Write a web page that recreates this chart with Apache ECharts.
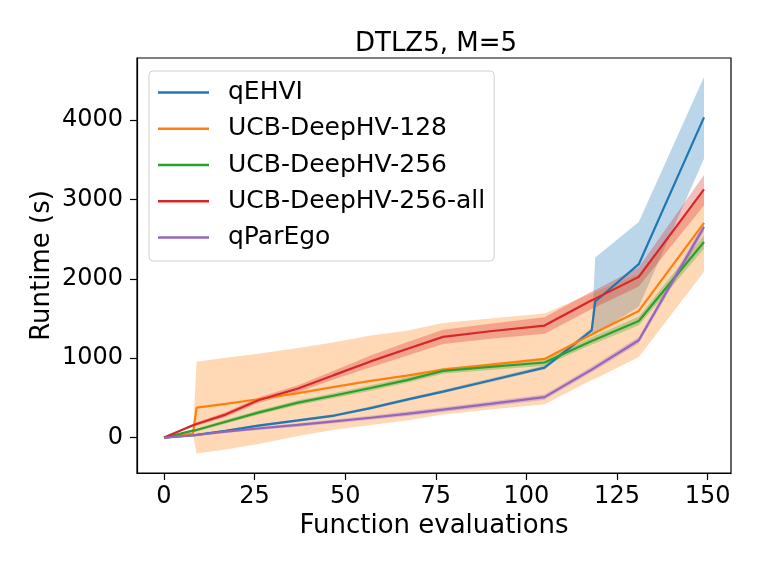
<!DOCTYPE html>
<html><head><meta charset="utf-8">
<script src="https://cdn.jsdelivr.net/npm/echarts@6/dist/echarts.min.js"></script>
<style>html,body{margin:0;padding:0;background:#fff}#c{width:761px;height:571px}</style>
</head><body><div id="c"></div>
<script>
// ---- data ----
const xs = [0, 8, 9, 17, 26, 37, 47, 57, 67, 77, 90, 105, 118, 119, 131, 149];

const qehvi      = [0, 30, 34, 85, 150, 216, 278, 372, 478, 580, 720, 882, 1350, 1715, 2185, 4035];
const qehviLo    = [0, 20, 24, 72, 135, 200, 260, 353, 458, 558, 696, 857, 1320, 1310, 1650, 3515];
const qehviHi    = [0, 40, 44, 98, 165, 232, 296, 391, 498, 602, 744, 907, 1380, 2270, 2717, 4545];

const ucb128     = [0, 50, 378, 425, 483, 560, 640, 715, 780, 857, 920, 991, 1300, 1325, 1596, 2705];
const ucb128Lo   = [0, 35, -200, -150, -80, 20, 100, 160, 215, 290, 355, 420, 725, 743, 1016, 2090];
const ucb128Hi   = [0, 65, 955, 1005, 1057, 1130, 1200, 1285, 1345, 1445, 1500, 1563, 1818, 1835, 2066, 3100];

const ucb256     = [0, 88, 95, 200, 315, 440, 530, 625, 725, 840, 890, 946, 1218, 1235, 1470, 2465];
const ucb256Lo   = [0, 70, 76, 175, 288, 410, 498, 591, 690, 804, 852, 906, 1172, 1188, 1415, 2380];
const ucb256Hi   = [0, 106, 114, 225, 342, 470, 562, 659, 760, 876, 928, 986, 1264, 1282, 1525, 2550];

const ucb256all   = [0, 155, 172, 290, 470, 618, 790, 960, 1117, 1269, 1340, 1412, 1730, 1751, 2025, 3127];
const ucb256allLo = [0, 135, 150, 260, 435, 576, 735, 885, 1032, 1179, 1245, 1307, 1620, 1641, 1905, 2925];
const ucb256allHi = [0, 175, 194, 320, 505, 660, 845, 1035, 1202, 1359, 1435, 1517, 1840, 1861, 2145, 3310];

const qparego    = [0, 29, 33, 75, 115, 160, 205, 250, 300, 353, 424, 510, 857, 885, 1227, 2655];
const qparegoLo  = [0, 15, 18, 57, 95, 138, 181, 224, 272, 323, 392, 478, 822, 850, 1187, 2595];
const qparegoHi  = [0, 43, 48, 93, 135, 182, 229, 276, 328, 383, 456, 542, 892, 920, 1267, 2715];

const xTicks = [0, 25, 50, 75, 100, 125, 150];
const yTicks = [0, 1000, 2000, 3000, 4000];

const names  = ['qEHVI', 'UCB-DeepHV-128', 'UCB-DeepHV-256', 'UCB-DeepHV-256-all', 'qParEgo'];
const colors = ['#1f77b4', '#ff7f0e', '#2ca02c', '#d62728', '#9467bd'];
const bandFill = ['rgba(31,119,180,0.3)', 'rgba(255,127,14,0.3)', 'rgba(44,160,44,0.3)', 'rgba(214,39,40,0.3)', 'rgba(148,103,189,0.3)'];
const means = [qehvi, ucb128, ucb256, ucb256all, qparego];
const lows  = [qehviLo, ucb128Lo, ucb256Lo, ucb256allLo, qparegoLo];
const highs = [qehviHi, ucb128Hi, ucb256Hi, ucb256allHi, qparegoHi];

// ---- chart ----
const chart = echarts.init(document.getElementById('c'), null, {renderer: 'canvas'});
const FONT = 'DejaVu Sans';

function bandSeries(k) {
  const data = xs.map((x, i) => [x, lows[k][i], highs[k][i]]);
  return {
    type: 'custom', name: names[k] + ' band', silent: true, z: 1,
    data: data, encode: {x: 0, y: [1, 2]},
    renderItem: function (params, api) {
      if (params.dataIndex !== 0) return null;
      const top = data.map(d => api.coord([d[0], d[2]]));
      const bot = data.map(d => api.coord([d[0], d[1]])).reverse();
      return {type: 'polygon', shape: {points: top.concat(bot)}, style: {fill: bandFill[k], stroke: null}};
    }
  };
}
function lineSeries(k) {
  return {
    type: 'line', name: names[k], z: 3, showSymbol: false, symbol: 'none',
    data: xs.map((x, i) => [x, means[k][i]]),
    lineStyle: {color: colors[k], width: 2.2}, itemStyle: {color: colors[k]}
  };
}

const series = [];
for (let k = 0; k < 5; k++) series.push(bandSeries(k));
for (let k = 0; k < 5; k++) series.push(lineSeries(k));

chart.setOption({
  animation: false,
  backgroundColor: '#fff',
  title: {
    text: 'DTLZ5, M=5', left: 431, top: 26, textAlign: 'center',
    textStyle: {fontFamily: FONT, fontSize: 26, fontWeight: 'normal', color: '#000'}
  },
  grid: {left: 137, top: 58, width: 594, height: 415, show: true, borderColor: '#000', borderWidth: 1.2, backgroundColor: 'transparent'},
  legend: {
    data: names, orient: 'vertical', left: 149, top: 71,
    icon: 'rect', itemWidth: 51, itemHeight: 2.5, itemGap: 10,
    padding: [8.5, 9, 10.5, 9],
    borderColor: '#d0d0d0', borderWidth: 1, borderRadius: 4, backgroundColor: 'rgba(255,255,255,0.8)',
    textStyle: {fontFamily: FONT, fontSize: 25, color: '#000', lineHeight: 26.2, padding: [0, 0, 0, 14]}
  },
  xAxis: {
    type: 'value', min: -7.45, max: 156.45,
    name: 'Function evaluations', nameLocation: 'middle', nameGap: 40, nameMoveOverlap: false,
    nameTextStyle: {fontFamily: FONT, fontSize: 26, color: '#000'},
    axisLine: {show: true, onZero: false, lineStyle: {color: '#000', width: 1.2}},
    axisTick: {show: true, length: 7, lineStyle: {color: '#000', width: 1.2}, customValues: xTicks},
    axisLabel: {fontFamily: FONT, fontSize: 24, color: '#000', margin: 12, customValues: xTicks, formatter: v => String(v)},
    splitLine: {show: false}
  },
  yAxis: {
    type: 'value', min: -446, max: 4783,
    name: 'Runtime (s)', nameLocation: 'middle', nameGap: 82, nameMoveOverlap: false,
    nameTextStyle: {fontFamily: FONT, fontSize: 26, color: '#000'},
    axisLine: {show: true, onZero: false, lineStyle: {color: '#000', width: 1.2}},
    axisTick: {show: true, length: 7, lineStyle: {color: '#000', width: 1.2}, customValues: yTicks},
    axisLabel: {fontFamily: FONT, fontSize: 24, color: '#000', margin: 14, customValues: yTicks, formatter: v => String(v)},
    splitLine: {show: false}
  },
  series: series
});
</script>
</body></html>
